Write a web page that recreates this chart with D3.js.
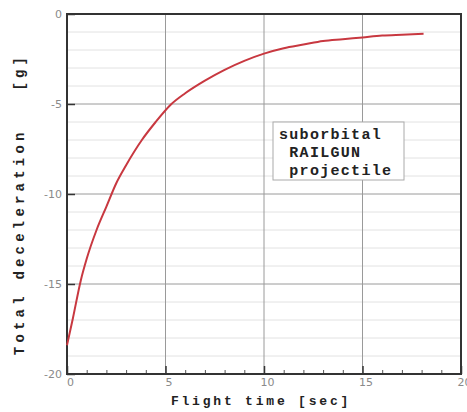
<!DOCTYPE html>
<head>
    <script src="https://d3js.org/d3.v7.min.js"></script>
    <style>
        body { margin: 0; background: #fff; }
        .tick text { fill: #8a8a8a; font-family: "DejaVu Sans", sans-serif; font-size: 11px; }
        .lbl { font-family: "Liberation Mono", monospace; font-weight: bold; font-size: 13px; fill: #222; }
    </style>
</head>
<body>
    <script>
        // data
        const timeSec = [0, 0.3, 0.7, 1, 1.5, 2, 2.5, 3, 3.8, 4.5, 5.3, 6, 7, 8, 9, 10, 11, 12, 13, 14, 15, 16, 17, 18.1];
        const decelG = [-18.4, -16.9, -14.8, -13.6, -12.0, -10.7, -9.4, -8.4, -7.0, -6.0, -5.0, -4.4, -3.7, -3.1, -2.6, -2.2, -1.9, -1.7, -1.5, -1.4, -1.3, -1.2, -1.15, -1.1];
        const xTicks = [0, 5, 10, 15, 20];
        const yTicks = [0, -5, -10, -15, -20];
        const noteLines = ["suborbital", " RAILGUN", " projectile"];

        const data = timeSec.map((t, i) => ({ t: t, g: decelG[i] }));

        const svg = d3.select("body").append("svg")
            .attr("width", 467)
            .attr("height", 412);
        const margin = { top: 14, left: 67, right: 6, bottom: 38 };
        const width = 467 - margin.left - margin.right;
        const height = 412 - margin.top - margin.bottom;
        const chart = svg.append("g")
            .attr("transform", `translate(${margin.left},${margin.top})`);

        const x = d3.scaleLinear().domain([0, 20]).range([0, width]);
        const y = d3.scaleLinear().domain([-20, 0]).range([height, 0]);

        // minor horizontal grid
        chart.append("g").selectAll("line")
            .data(d3.range(-19, 0).filter(v => v % 5 !== 0))
            .join("line")
            .attr("x1", 0).attr("x2", width)
            .attr("y1", d => y(d)).attr("y2", d => y(d))
            .attr("stroke", "#e2e2e2");

        // major grid
        chart.append("g").selectAll("line")
            .data([-5, -10, -15])
            .join("line")
            .attr("x1", 0).attr("x2", width)
            .attr("y1", d => y(d)).attr("y2", d => y(d))
            .attr("stroke", "#9a9a9a");
        chart.append("g").selectAll("line")
            .data([5, 10, 15])
            .join("line")
            .attr("y1", 0).attr("y2", height)
            .attr("x1", d => x(d)).attr("x2", d => x(d))
            .attr("stroke", "#9a9a9a");

        // axes with inward ticks
        const xAxis = chart.append("g")
            .attr("transform", `translate(0,${height})`)
            .call(d3.axisBottom(x).tickValues(xTicks).tickSize(-8).tickPadding(4).tickFormat(d3.format("d")));
        xAxis.select(".domain").remove();
        xAxis.selectAll(".tick line").attr("stroke", "#333").attr("stroke-width", 1.5);
        xAxis.selectAll(".tick text").attr("dx", 3);

        chart.append("g")
            .attr("transform", `translate(0,${height})`)
            .call(d3.axisBottom(x).tickValues(d3.range(1, 20).filter(v => v % 5 !== 0)).tickSize(-4).tickFormat(""))
            .call(g => g.select(".domain").remove())
            .selectAll(".tick line").attr("stroke", "#555");

        const yAxis = chart.append("g")
            .call(d3.axisLeft(y).tickValues(yTicks).tickSize(-8).tickPadding(13).tickFormat(d => d === 0 ? "0" : "-" + Math.abs(d)));
        yAxis.select(".domain").remove();
        yAxis.selectAll(".tick line").attr("stroke", "#333").attr("stroke-width", 1.5);
        yAxis.selectAll(".tick text").attr("dx", 8).attr("font-size", 12);

        // frame
        chart.append("rect")
            .attr("width", width).attr("height", height)
            .attr("fill", "none")
            .attr("stroke", "#333")
            .attr("stroke-width", 2);

        // curve
        chart.append("path")
            .datum(data)
            .attr("fill", "none")
            .attr("stroke", "#c83840")
            .attr("stroke-width", 2)
            .attr("d", d3.line().curve(d3.curveMonotoneX).x(d => x(d.t)).y(d => y(d.g)));

        // annotation box
        chart.append("rect")
            .attr("x", 206).attr("y", 108)
            .attr("width", 131).attr("height", 58)
            .attr("fill", "#fff")
            .attr("stroke", "#aaa");
        chart.append("text")
            .attr("class", "lbl")
            .style("font-size", "15px")
            .attr("letter-spacing", 1.3)
            .selectAll("tspan")
            .data(noteLines)
            .join("tspan")
            .attr("x", 212)
            .attr("y", (d, i) => 125 + i * 18)
            .style("white-space", "pre")
            .text(d => d);

        // axis labels
        svg.append("text")
            .attr("class", "lbl")
            .attr("x", margin.left + width / 2 - 3)
            .attr("y", 405)
            .attr("text-anchor", "middle")
            .attr("letter-spacing", 2.8)
            .text("Flight time [sec]");

        svg.append("text")
            .attr("class", "lbl")
            .style("font-size", "14px")
            .attr("transform", "translate(24,204) rotate(-90)")
            .attr("text-anchor", "middle")
            .attr("letter-spacing", 4.2)
            .style("white-space", "pre")
            .text("Total deceleration   [g]");
    </script>
</body>
